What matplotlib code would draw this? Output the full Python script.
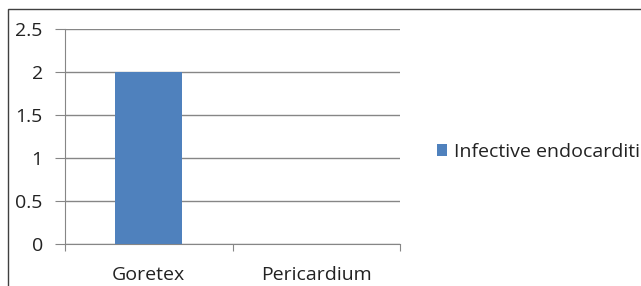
import matplotlib
matplotlib.use("Agg")
import matplotlib.pyplot as plt
from matplotlib.patches import Rectangle

# data
categories = ["Goretex", "Pericardium"]
infective_endocarditis = [2, 0]
y_ticks = [0, 0.5, 1, 1.5, 2, 2.5]
y_labels = ["0", "0.5", "1", "1.5", "2", "2.5"]

W, H = 641, 286
bar_color = "#4F81BD"
grid_color = "#868686"
fs = 14

plt.rcParams["font.family"] = ["Open Sans", "DejaVu Sans"]

fig = plt.figure(figsize=(W / 100, H / 100), dpi=100)
ax = fig.add_axes([65 / W, 1 - 244 / H, (400 - 65) / W, (244 - 29) / H])

x = list(range(len(categories)))
ax.bar(x, infective_endocarditis, width=0.4, color=bar_color,
       label="Infective endocarditis", zorder=3)

ax.set_xlim(-0.5, len(categories) - 0.5)
ax.set_ylim(0, 2.5)
ax.set_yticks(y_ticks)
ax.set_yticklabels(y_labels, fontsize=fs, color="#222222")
ax.yaxis.grid(True, color=grid_color, linewidth=1.0, zorder=0)

# category labels sit between the tick marks
ax.set_xticks([-0.5, 0.5, 1.5])
ax.set_xticklabels([])
ax.set_xticks(x, minor=True)
ax.set_xticklabels(categories, minor=True, fontsize=fs, color="#222222")
ax.tick_params(axis="x", which="minor", length=0, pad=16)
ax.tick_params(axis="x", which="major", length=5, color=grid_color, direction="out")
ax.tick_params(axis="y", length=7, color=grid_color, direction="out", pad=9)

for side in ["top", "right"]:
    ax.spines[side].set_visible(False)
ax.spines["left"].set_color(grid_color)
ax.spines["bottom"].set_color(grid_color)

# legend is cut by the right edge, as in the source image
leg = fig.legend(loc="center left", bbox_to_anchor=(429 / W, 1 - 152 / H),
                 frameon=False, fontsize=fs, handlelength=0.55, handleheight=0.55,
                 handletextpad=0.35, borderaxespad=0)
for t in leg.get_texts():
    t.set_color("#222222")

# outer chart frame (runs off the right and bottom edges)
frame = Rectangle((8 / W, -0.1), 1.2, 1 - 9 / H + 0.1, transform=fig.transFigure,
                  fill=False, edgecolor="#404040", linewidth=1.0, clip_on=False)
fig.patches.append(frame)

fig.savefig("out.png", dpi=100)
